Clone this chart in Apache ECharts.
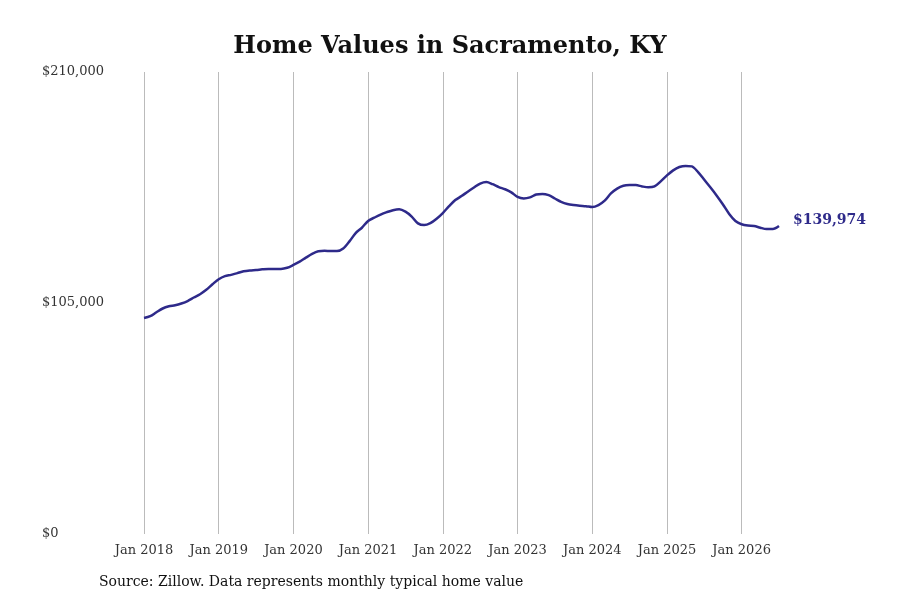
<!DOCTYPE html>
<html><head><meta charset="utf-8">
<script src="https://cdn.jsdelivr.net/npm/echarts@6/dist/echarts.min.js"></script>
<style>html,body{margin:0;background:#fff}#c{width:900px;height:600px}</style>
</head><body><div id="c"></div>
<script>
const values2018 = [98200, 99000, 100800, 102500, 103500, 104000, 104800, 105900, 107500, 109000, 111000, 113500];
const values2019 = [115800, 117200, 117800, 118600, 119400, 119800, 120000, 120300, 120500, 120500, 120500, 121000];
const values2020 = [122300, 123800, 125600, 127300, 128500, 128700, 128600, 128600, 129800, 133000, 136800, 139200];
const values2021 = [142300, 143800, 145200, 146300, 147200, 147600, 146500, 144300, 141200, 140400, 141300, 143300];
const values2022 = [145900, 149000, 151800, 153600, 155600, 157500, 159300, 160000, 159000, 157700, 156700, 155300];
const values2023 = [153200, 152500, 153000, 154300, 154600, 154000, 152500, 151000, 150000, 149500, 149200, 149000];
const values2024 = [148600, 149500, 151500, 154800, 157000, 158300, 158600, 158600, 158000, 157600, 158000, 160300];
const values2025 = [163000, 165300, 166800, 167300, 167100, 164500, 161000, 157500, 153800, 149800, 145500, 142300];
const values2026 = [140800, 140200, 140000, 139200, 138600, 138600, 139974];
const values = [].concat(values2018, values2019, values2020, values2021, values2022, values2023, values2024, values2025, values2026);
const monthNames = ['Jan','Feb','Mar','Apr','May','Jun','Jul','Aug','Sep','Oct','Nov','Dec'];
const categories = values.map((v, i) => monthNames[i % 12] + ' ' + (2018 + Math.floor(i / 12)));
const yTicks = [0, 105000, 210000];
const lineColor = '#2e2a8a';
const serif = '"DejaVu Serif", "Liberation Serif", serif';

const chart = echarts.init(document.getElementById('c'));
chart.setOption({
  animation: false,
  title: {text: 'Home Values in Sacramento, KY', left: 'center', top: 30,
    textStyle: {fontFamily: serif, fontSize: 24, fontWeight: 'bold', color: '#111'}},
  graphic: [{type: 'text', left: 99, top: 575,
    style: {text: 'Source: Zillow. Data represents monthly typical home value', font: '14px ' + serif, fill: '#111'}}],
  grid: {left: 144, right: 121, top: 72, bottom: 66},
  xAxis: {type: 'category', data: categories, boundaryGap: false,
    axisLine: {show: false}, axisTick: {show: false},
    axisLabel: {interval: 11, fontFamily: serif, fontSize: 13, color: '#333', margin: 10},
    splitLine: {show: true, interval: 11, lineStyle: {color: '#bbb', width: 1}}},
  yAxis: {type: 'value', min: yTicks[0], max: yTicks[2], interval: yTicks[1],
    splitLine: {show: false}, axisLine: {show: false}, axisTick: {show: false},
    axisLabel: {fontFamily: serif, fontSize: 13, color: '#333', margin: 102, align: 'left',
      formatter: v => '$' + v.toLocaleString('en-US'),
      verticalAlign: 'middle'}},
  series: [{type: 'line', data: values, symbol: 'none', smooth: 0.3,
    lineStyle: {color: lineColor, width: 2.5},
    endLabel: {show: true, distance: 14, offset: [0, -6], fontFamily: serif, fontSize: 14, fontWeight: 'bold', color: lineColor,
      formatter: p => '$' + p.value.toLocaleString('en-US')}}]
});
</script></body></html>
